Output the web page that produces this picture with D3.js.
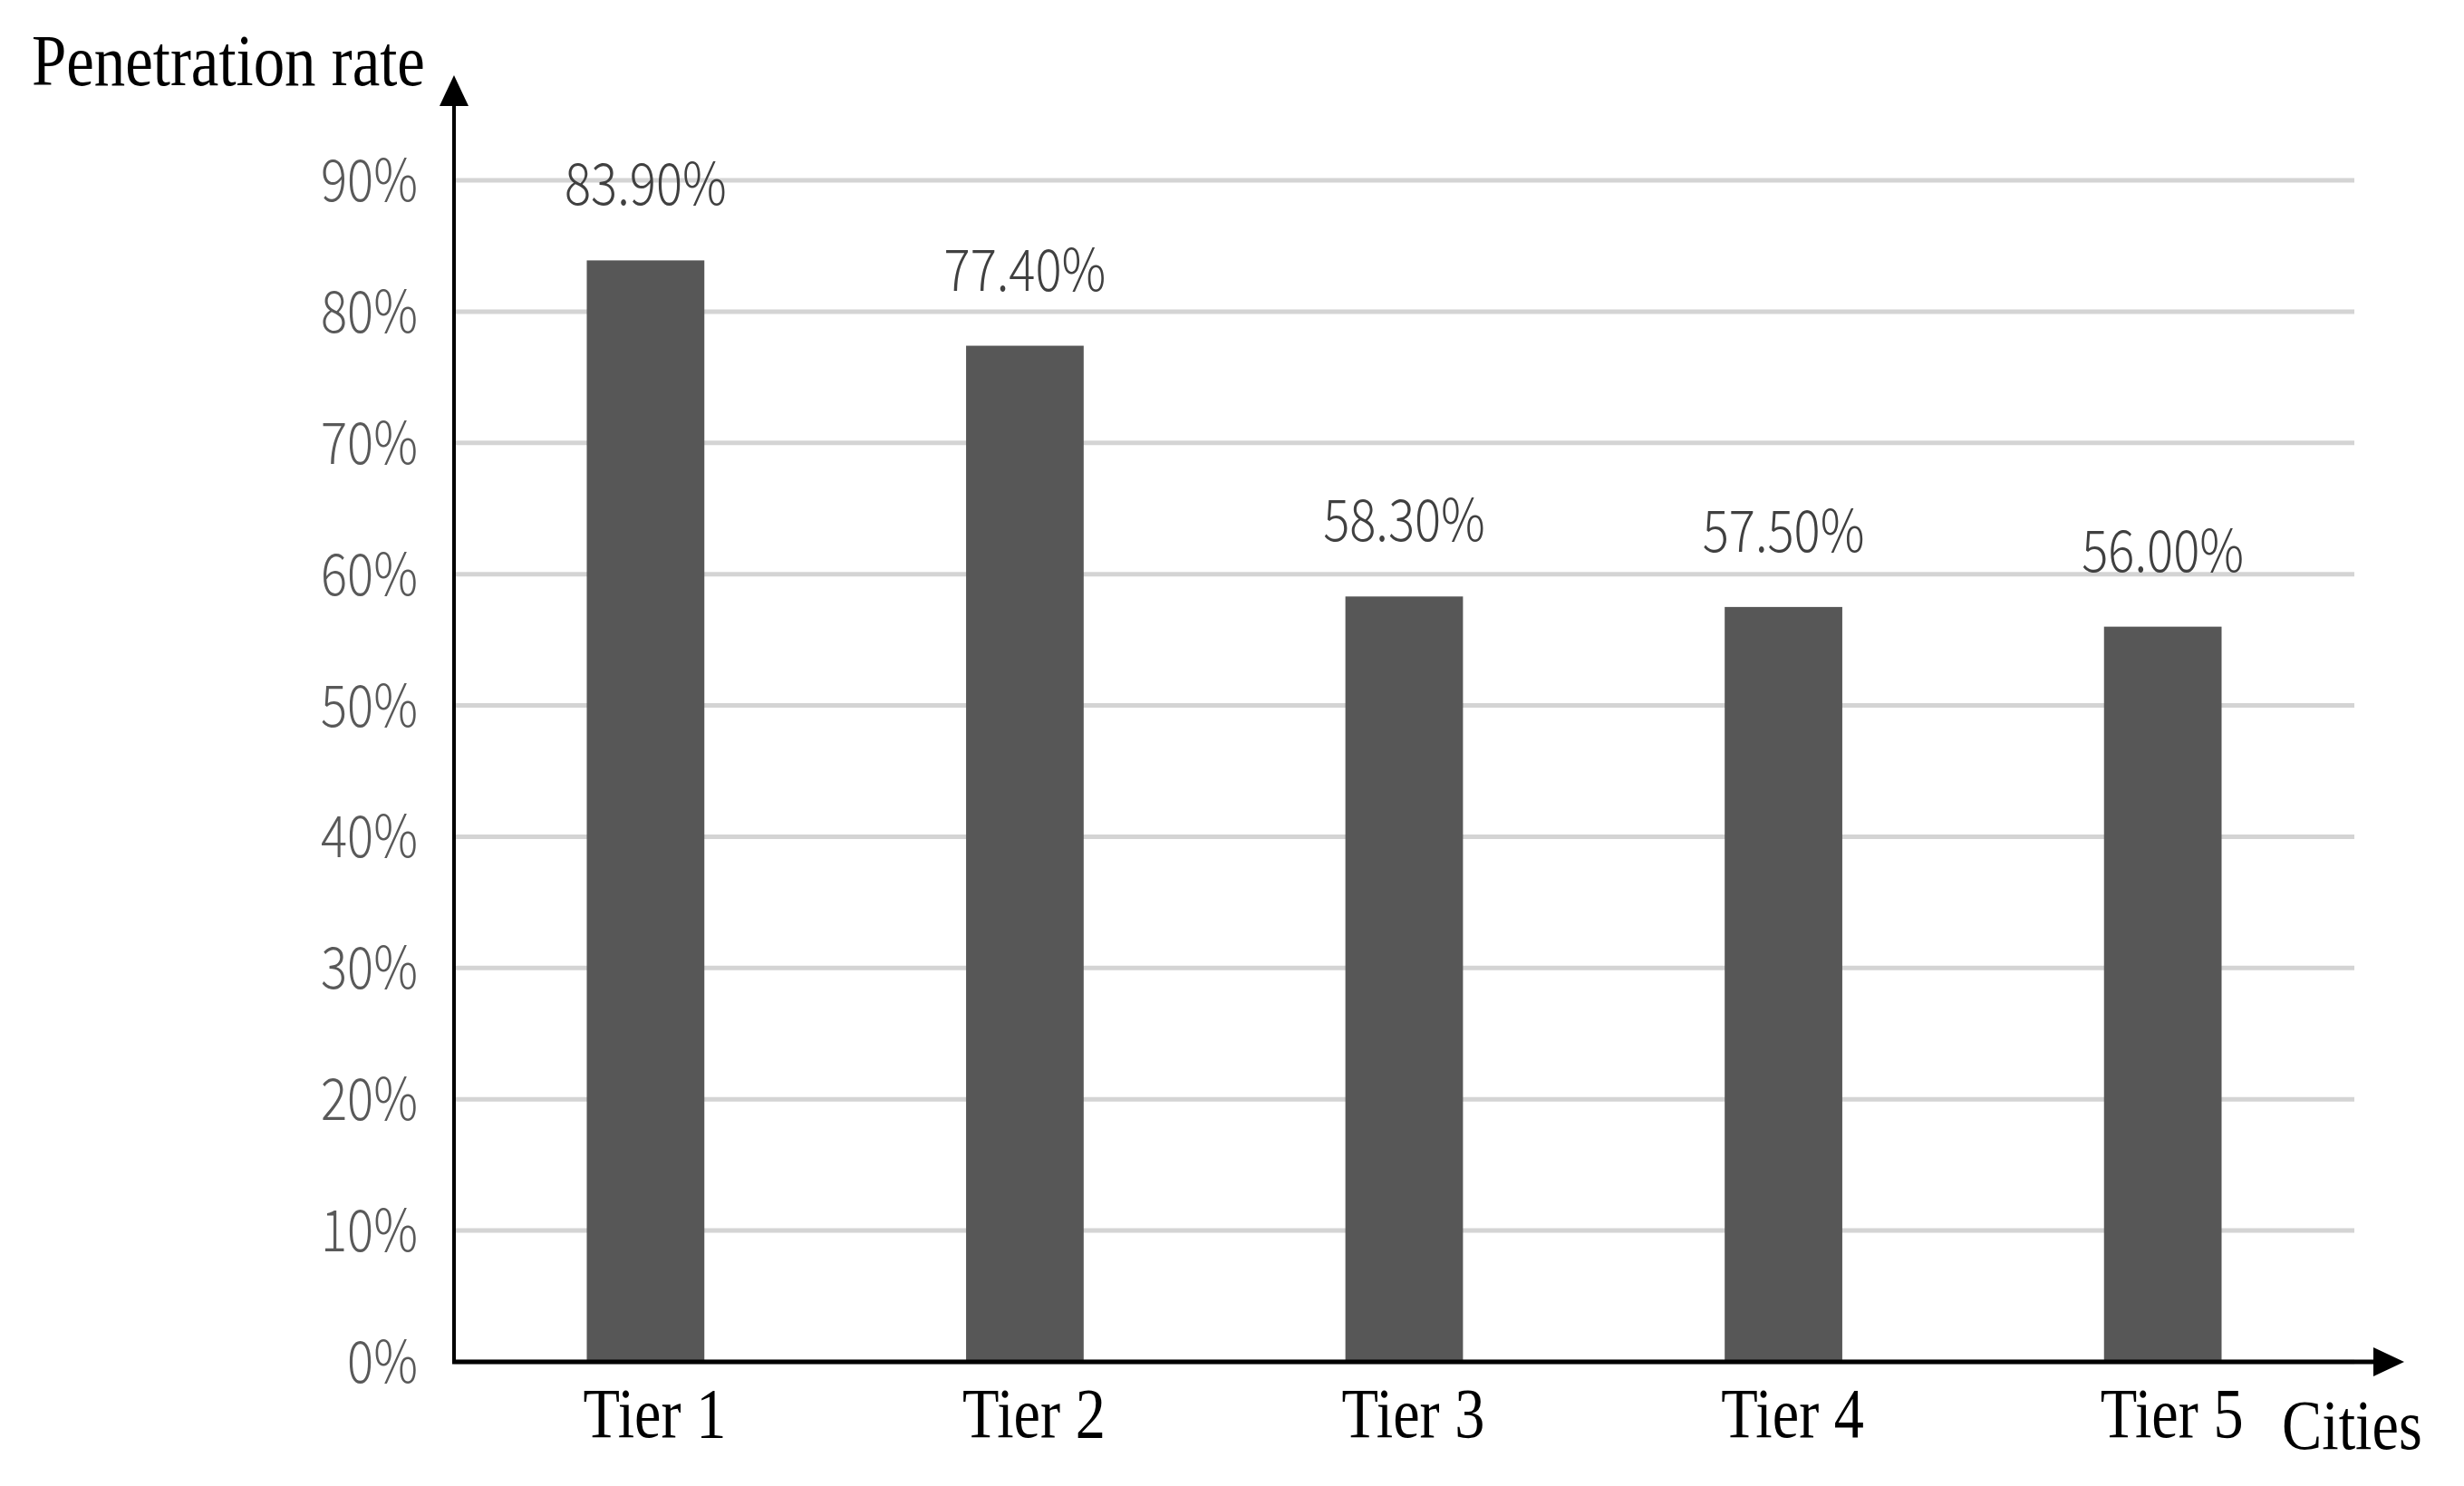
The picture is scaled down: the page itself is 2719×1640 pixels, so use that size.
<!DOCTYPE html>
<html><head><meta charset="utf-8">
<script src="https://cdn.jsdelivr.net/npm/d3@7"></script>
<style>html,body{margin:0;padding:0;background:#fff;}</style>
</head><body>
<script>
const categories = ["Tier 1","Tier 2","Tier 3","Tier 4","Tier 5"];
const values = [83.9, 77.4, 58.3, 57.5, 56.0];
const valueLabels = ["83.90%","77.40%","58.30%","57.50%","56.00%"];
const tickValues = [0,10,20,30,40,50,60,70,80,90];
const tickLabels = ["0%","10%","20%","30%","40%","50%","60%","70%","80%","90%"];
const yTitle = "Penetration rate";
const xTitle = "Cities";

const W = 2719, H = 1640;
const svg = d3.select("body").append("svg").attr("width", W).attr("height", H);

const x0 = 501, x1 = 2598, yBase = 1503, yTop90 = 199;
const y = d3.scaleLinear().domain([0, 90]).range([yBase, yTop90]);
const x = d3.scaleBand().domain(categories).range([x0, x1]).paddingInner(0.69).paddingOuter(0.35);

const SX = 0.85;
const sans = "'Noto Sans CJK SC', 'Noto Sans', sans-serif";
const serif = "'Liberation Serif', 'DejaVu Serif', serif";

// gridlines
svg.append("g").selectAll("line").data(tickValues).join("line")
  .attr("x1", x0).attr("x2", x1)
  .attr("y1", d => y(d)).attr("y2", d => y(d))
  .attr("stroke", "#d4d4d4").attr("stroke-width", 5);

// tick labels
svg.append("g").selectAll("text").data(tickValues).join("text")
  .attr("transform", d => `translate(461,${y(d) + 23}) scale(${SX},1)`)
  .attr("text-anchor", "end")
  .attr("font-family", sans).attr("font-weight", 300).attr("font-size", 64).attr("fill", "#595959")
  .text((d, i) => tickLabels[i]);

// bars
svg.append("g").selectAll("rect").data(values).join("rect")
  .attr("x", (d, i) => x(categories[i]))
  .attr("width", x.bandwidth())
  .attr("y", d => y(d))
  .attr("height", d => yBase - y(d))
  .attr("fill", "#575757");

// value labels
svg.append("g").selectAll("text").data(values).join("text")
  .attr("transform", (d, i) => `translate(${x(categories[i]) + x.bandwidth()/2},${y(d) - 61}) scale(${SX},1)`)
  .attr("text-anchor", "middle")
  .attr("font-family", sans).attr("font-weight", 300).attr("font-size", 64).attr("fill", "#404040")
  .text((d, i) => valueLabels[i]);

// category labels
svg.append("g").selectAll("text").data(categories).join("text")
  .attr("transform", d => `translate(${x(d) + x.bandwidth()/2 + 10},1586) scale(${SX},1)`)
  .attr("text-anchor", "middle")
  .attr("font-family", serif).attr("font-size", 78).attr("fill", "#000")
  .text(d => d);

// axes
svg.append("line").attr("x1", x0).attr("x2", x0).attr("y1", yBase + 2).attr("y2", 110)
  .attr("stroke", "#000").attr("stroke-width", 4);
svg.append("line").attr("x1", x0 - 2).attr("x2", 2625).attr("y1", yBase).attr("y2", yBase)
  .attr("stroke", "#000").attr("stroke-width", 5);
svg.append("path").attr("d", `M${x0},83 L${x0-16},117 L${x0+16},117 Z`).attr("fill", "#000");
svg.append("path").attr("d", `M2653,${yBase} L2619,${yBase-16} L2619,${yBase+16} Z`).attr("fill", "#000");

// titles
svg.append("text").attr("transform", `translate(35,94) scale(${SX},1)`)
  .attr("font-family", serif).attr("font-size", 81).attr("fill", "#000").text(yTitle);
svg.append("text").attr("transform", `translate(2518,1599) scale(${SX},1)`)
  .attr("font-family", serif).attr("font-size", 78).attr("fill", "#000").text(xTitle);
</script>
</body></html>
